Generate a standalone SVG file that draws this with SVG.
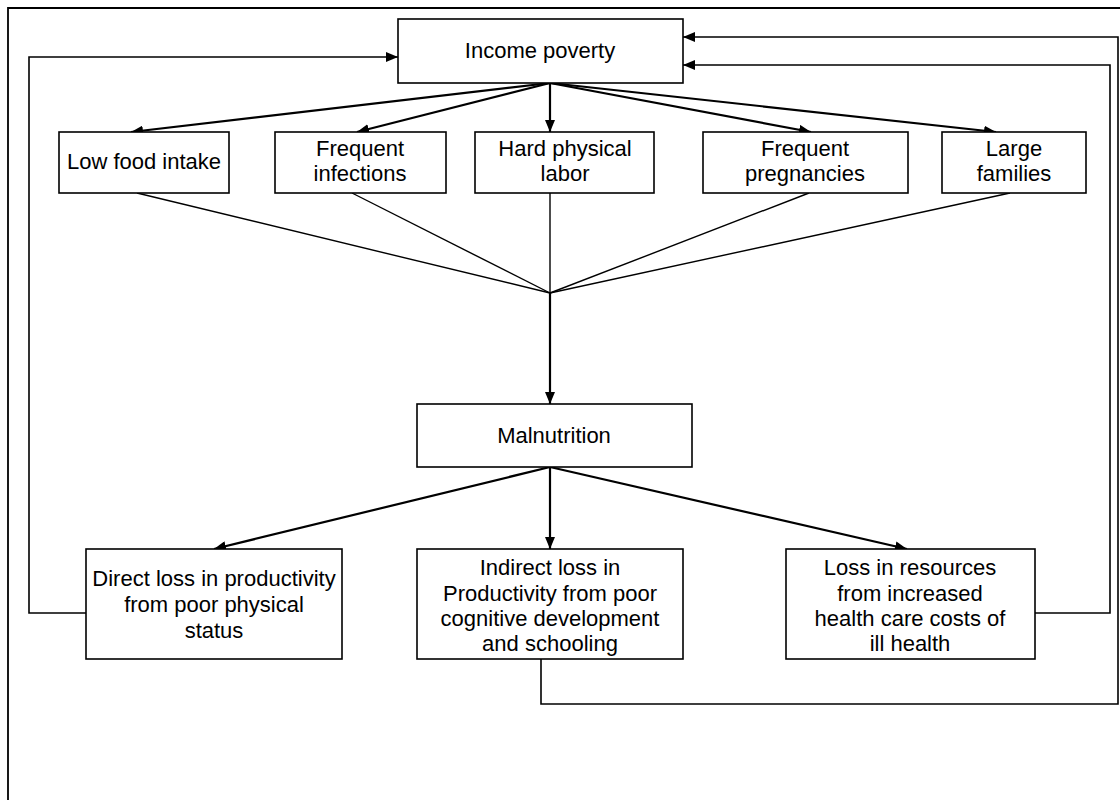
<svg xmlns="http://www.w3.org/2000/svg" width="1120" height="800" viewBox="0 0 1120 800">
<defs>
<marker id="ah" markerUnits="userSpaceOnUse" markerWidth="12" markerHeight="10" viewBox="0 0 12 10" refX="12" refY="5" orient="auto">
<path d="M0,0 L12,5 L0,10 Z" fill="#000"/>
</marker>
</defs>
<style>
.box{fill:#fff;stroke:#000;stroke-width:1.6}
.t{font-family:"Liberation Sans",Arial,sans-serif;font-size:22px;fill:#000;text-anchor:middle}
.arr{fill:none;stroke:#000;stroke-width:2.2;marker-end:url(#ah)}
.ln{fill:none;stroke:#000;stroke-width:1.4}
.fb{fill:none;stroke:#000;stroke-width:1.6}
</style>
<rect width="1120" height="800" fill="#fff"/>
<path d="M8,800 V8 H1120" fill="none" stroke="#000" stroke-width="1.8"/>
<g id="connectors">
<line class="arr" x1="550" y1="83" x2="131" y2="132"/>
<line class="arr" x1="550" y1="83" x2="357" y2="132"/>
<line class="arr" x1="550" y1="83" x2="550" y2="132"/>
<line class="arr" x1="550" y1="83" x2="811" y2="132"/>
<line class="arr" x1="550" y1="83" x2="996" y2="132"/>
<line class="ln" x1="137" y1="193" x2="550" y2="293"/>
<line class="ln" x1="352" y1="193" x2="550" y2="293"/>
<line class="ln" x1="550" y1="193" x2="550" y2="293"/>
<line class="ln" x1="809" y1="193" x2="550" y2="293"/>
<line class="ln" x1="1010" y1="193" x2="550" y2="293"/>
<line class="arr" x1="550" y1="293" x2="550" y2="404"/>
<line class="arr" x1="550" y1="467" x2="214" y2="549"/>
<line class="arr" x1="550" y1="467" x2="550" y2="549"/>
<line class="arr" x1="550" y1="467" x2="907" y2="549"/>
<polyline class="fb" points="86,613 29,613 29,57 398,57" marker-end="url(#ah)"/>
<polyline class="fb" points="1035,613 1110,613 1110,65 683,65" marker-end="url(#ah)"/>
<polyline class="fb" points="541,659 541,704 1118,704 1118,37 683,37" marker-end="url(#ah)"/>
</g>
<g id="income-poverty">
<rect class="box" x="398" y="19" width="285" height="64"/>
<text class="t" x="540" y="58">Income poverty</text>
</g>
<g id="low-food-intake">
<rect class="box" x="59" y="132" width="170" height="61"/>
<text class="t" x="144" y="169">Low food intake</text>
</g>
<g id="frequent-infections">
<rect class="box" x="275" y="132" width="171" height="61"/>
<text class="t" x="360" y="156">Frequent</text>
<text class="t" x="360" y="181">infections</text>
</g>
<g id="hard-physical-labor">
<rect class="box" x="475" y="132" width="179" height="61"/>
<text class="t" x="565" y="156">Hard physical</text>
<text class="t" x="565" y="181">labor</text>
</g>
<g id="frequent-pregnancies">
<rect class="box" x="703" y="132" width="205" height="61"/>
<text class="t" x="805" y="156">Frequent</text>
<text class="t" x="805" y="181">pregnancies</text>
</g>
<g id="large-families">
<rect class="box" x="942" y="132" width="144" height="61"/>
<text class="t" x="1014" y="156">Large</text>
<text class="t" x="1014" y="181">families</text>
</g>
<g id="malnutrition">
<rect class="box" x="417" y="404" width="275" height="63"/>
<text class="t" x="554" y="443">Malnutrition</text>
</g>
<g id="direct-loss">
<rect class="box" x="86" y="549" width="256" height="110"/>
<text class="t" x="214" y="586">Direct loss in productivity</text>
<text class="t" x="214" y="612">from poor physical</text>
<text class="t" x="214" y="638">status</text>
</g>
<g id="indirect-loss">
<rect class="box" x="417" y="549" width="266" height="110"/>
<text class="t" x="550" y="575">Indirect loss in</text>
<text class="t" x="550" y="601">Productivity from poor</text>
<text class="t" x="550" y="626">cognitive development</text>
<text class="t" x="550" y="651">and schooling</text>
</g>
<g id="loss-resources">
<rect class="box" x="786" y="549" width="249" height="110"/>
<text class="t" x="910" y="575">Loss in resources</text>
<text class="t" x="910" y="601">from increased</text>
<text class="t" x="910" y="626">health care costs of</text>
<text class="t" x="910" y="651">ill health</text>
</g>
</svg>
